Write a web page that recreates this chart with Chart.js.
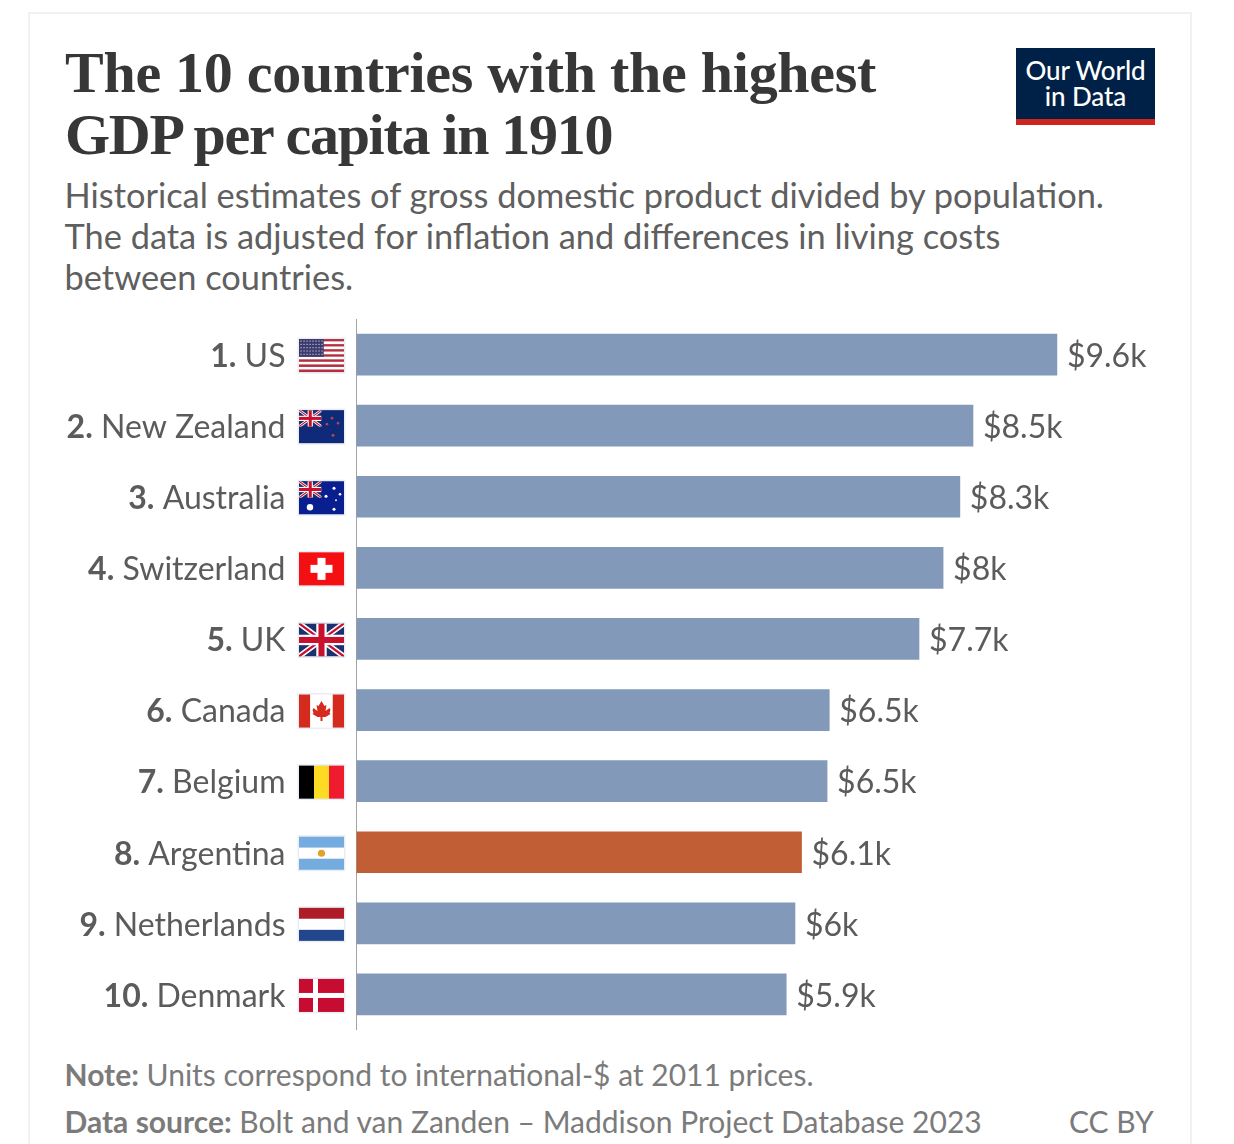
<!DOCTYPE html>
<html>
<head>
<meta charset="utf-8">
<script src="https://cdn.jsdelivr.net/npm/chart.js@4/dist/chart.umd.min.js"></script>
<style>
  html, body { margin: 0; padding: 0; background: #fff; }
  body { width: 1234px; height: 1144px; position: relative; overflow: hidden; font-family: Lato, sans-serif; }
  #card { position: absolute; left: 28px; top: 12px; width: 1160px; height: 1140px; border: 2px solid #f1f1f1; box-sizing: content-box; }
  #title { position: absolute; left: 65px; top: 42px; font: bold 58px/62px "Liberation Serif", serif; color: #373737; white-space: nowrap; }
  #subtitle { position: absolute; left: 64.5px; top: 174px; font-size: 34.4px; line-height: 41px; color: #5f5f5f; white-space: nowrap; }
  #logo { position: absolute; left: 1016px; top: 48px; width: 139px; height: 71px; background: #002147; border-bottom: 6px solid #ce261e; color: #fff; text-align: center; font-size: 26px; line-height: 26px; font-weight: 500; letter-spacing: -0.1px; }
  #logo div:first-child { margin-top: 9px; }
  .foot { position: absolute; font-size: 30px; line-height: 36px; color: #7b7b7b; white-space: nowrap; }
  #wrap { position: absolute; left: 0; top: 319px; width: 1232px; height: 711px; }
</style>
</head>
<body>
<div id="card"></div>
<div id="title"><span style="letter-spacing:-0.27px">The 10 countries with the highest</span><br><span style="letter-spacing:-1.3px">GDP per capita in 1910</span></div>
<div id="subtitle">Historical estimates of gross domestic product divided by population.<br>The data is adjusted for inflation and differences in living costs<br>between countries.</div>
<div id="logo"><div>Our World</div><div>in Data</div></div>
<div id="wrap"><canvas id="myChart"></canvas></div>
<div class="foot" style="left:64.5px;top:1056px"><b>Note:</b> Units correspond to international-$ at 2011 prices.</div>
<div class="foot" style="left:64.5px;top:1103px"><b>Data source:</b> Bolt and van Zanden – Maddison Project Database 2023</div>
<div class="foot" style="left:1069px;top:1103px">CC BY</div>
<script>
const countries = ["US","New Zealand","Australia","Switzerland","UK","Canada","Belgium","Argentina","Netherlands","Denmark"];
const gdp = [9600,8450,8270,8040,7710,6480,6450,6100,6010,5890];
const valueLabels = ["$9.6k","$8.5k","$8.3k","$8k","$7.7k","$6.5k","$6.5k","$6.1k","$6k","$5.9k"];
const highlight = "Argentina";

const FONT_SIZE = 32, TEXT = "#5b5b5b";
const FLAG_X = 299, FLAG_W = 45, FLAG_H = 33;
const LABEL_DROP = 2;

function stars(c, x, y, list, color) {
  c.fillStyle = color;
  list.forEach(s => { c.beginPath(); c.arc(x + s[0], y + s[1], s[2], 0, Math.PI * 2); c.fill(); });
}
function unionJack(c, x, y, w, h) {
  c.save();
  c.beginPath(); c.rect(x, y, w, h); c.clip();
  c.fillStyle = "#1c2f6e"; c.fillRect(x, y, w, h);
  let t = h / 6;
  c.strokeStyle = "#fff"; c.lineWidth = t;
  c.beginPath(); c.moveTo(x, y); c.lineTo(x + w, y + h); c.moveTo(x + w, y); c.lineTo(x, y + h); c.stroke();
  c.strokeStyle = "#c8102e"; c.lineWidth = t / 2.4;
  c.beginPath(); c.moveTo(x, y); c.lineTo(x + w, y + h); c.moveTo(x + w, y); c.lineTo(x, y + h); c.stroke();
  c.fillStyle = "#fff";
  c.fillRect(x + w / 2 - t * 0.95, y, t * 1.9, h);
  c.fillRect(x, y + h / 2 - t * 0.95, w, t * 1.9);
  c.fillStyle = "#c8102e";
  c.fillRect(x + w / 2 - t * 0.55, y, t * 1.1, h);
  c.fillRect(x, y + h / 2 - t * 0.55, w, t * 1.1);
  c.restore();
}
function bandsV(c, x, y, w, h, cols) {
  cols.forEach((col, i) => { c.fillStyle = col; c.fillRect(x + i * w / cols.length, y, w / cols.length, h); });
}
function bandsH(c, x, y, w, h, cols) {
  cols.forEach((col, i) => { c.fillStyle = col; c.fillRect(x, y + i * h / cols.length, w, h / cols.length); });
}

const flags = {
  "US": function (c, x, y, w, h) {
    let rows = [];
    for (let i = 0; i < 13; i++) rows.push(i % 2 ? "#fff" : "#b5303f");
    bandsH(c, x, y, w, h, rows);
    c.fillStyle = "#3c3b6e"; c.fillRect(x, y, w * 0.55, h * 7 / 13);
    c.fillStyle = "#d5d7e6";
    for (let r = 0; r < 5; r++) for (let k = 0; k < 8; k++) c.fillRect(x + 1.5 + k * 3, y + 1.5 + r * 3.3, 1.1, 1.1);
  },
  "New Zealand": function (c, x, y, w, h) {
    c.fillStyle = "#0f2a78"; c.fillRect(x, y, w, h);
    unionJack(c, x, y, w / 2, h / 2);
    stars(c, x, y, [[33, 8, 1.3], [28, 14, 1.3], [39, 13, 1.3], [34, 25, 1.5]], "#b5405a");
  },
  "Australia": function (c, x, y, w, h) {
    c.fillStyle = "#0a1f8f"; c.fillRect(x, y, w, h);
    unionJack(c, x, y, w / 2, h / 2);
    stars(c, x, y, [[11, 26, 3.2], [35, 7, 1.5], [27, 15, 1.5], [41, 13, 1.3], [37, 19, 0.9], [35, 28, 1.5]], "#fff");
  },
  "Switzerland": function (c, x, y, w, h) {
    c.fillStyle = "#f40f12"; c.fillRect(x, y, w, h);
    c.fillStyle = "#fff";
    c.fillRect(x + w / 2 - 11, y + h / 2 - 4, 22, 8);
    c.fillRect(x + w / 2 - 4, y + h / 2 - 11, 8, 22);
  },
  "UK": unionJack,
  "Canada": function (c, x, y, w, h) {
    bandsV(c, x, y, w, h, ["#d52b1e", "#fff", "#fff", "#d52b1e"]);
    let mx = x + w / 2, my = y + h / 2;
    let leaf = [[0,-10],[3,-5],[5,-6],[4,0],[8,-3],[9,-1],[8,2],[9,3],[4,6],[1,6],[1,10],[-1,10],[-1,6],[-4,6],[-9,3],[-8,2],[-9,-1],[-8,-3],[-4,0],[-5,-6],[-3,-5]];
    c.fillStyle = "#d52b1e"; c.beginPath();
    leaf.forEach((p, i) => i ? c.lineTo(mx + p[0], my + p[1]) : c.moveTo(mx + p[0], my + p[1]));
    c.closePath(); c.fill();
  },
  "Belgium": function (c, x, y, w, h) { bandsV(c, x, y, w, h, ["#000", "#fdda24", "#ef1c2e"]); },
  "Argentina": function (c, x, y, w, h) {
    bandsH(c, x, y, w, h, ["#74acdf", "#fff", "#74acdf"]);
    stars(c, x + w / 2, y + h / 2, [[0, 0, 3.6]], "#e0a12f");
  },
  "Netherlands": function (c, x, y, w, h) { bandsH(c, x, y, w, h, ["#ae1c28", "#fff", "#21468b"]); },
  "Denmark": function (c, x, y, w, h) {
    c.fillStyle = "#c60c30"; c.fillRect(x, y, w, h);
    c.fillStyle = "#fff";
    c.fillRect(x + 14, y, 5, h);
    c.fillRect(x, y + h / 2 - 2.5, w, 5);
  }
};

// rank numbers, flags and the value at the end of each bar
const rowExtras = {
  id: "rowExtras",
  afterDatasetsDraw(chart) {
    let c = chart.ctx, yScale = chart.scales.y;
    let bars = chart.getDatasetMeta(0).data;
    let right = yScale.right - yScale.options.ticks.padding;
    c.save();
    c.textBaseline = "middle";
    countries.forEach((name, i) => {
      let y = yScale.getPixelForValue(i);
      c.font = FONT_SIZE + "px Lato";
      let w = c.measureText(name).width;
      let gap = c.measureText(" ").width;
      c.font = "bold " + FONT_SIZE + "px Lato";
      c.fillStyle = TEXT;
      c.textAlign = "right";
      c.fillText((i + 1) + ".", right - w - gap, y + LABEL_DROP);

      c.font = FONT_SIZE + "px Lato";
      c.textAlign = "left";
      c.fillText(valueLabels[i], bars[i].x + 10, y + LABEL_DROP);

      let fy = y - FLAG_H / 2 + 1;
      c.fillStyle = "#e9edf5";
      c.fillRect(FLAG_X - 1.5, fy - 1.5, FLAG_W + 3, FLAG_H + 3);
      flags[name](c, FLAG_X, fy, FLAG_W, FLAG_H);
    });
    c.restore();
  }
};

new Chart(document.getElementById("myChart"), {
  type: "bar",
  data: {
    labels: countries,
    datasets: [{
      data: gdp,
      barThickness: 41,
      backgroundColor: countries.map(n => n == highlight ? "#c15e36" : "#8299ba")
    }]
  },
  options: {
    indexAxis: "y",
    responsive: true,
    maintainAspectRatio: false,
    animation: false,
    layout: { padding: 0 },
    plugins: { legend: { display: false }, tooltip: { enabled: false } },
    scales: {
      x: { display: false, min: 0, max: 12000 },
      y: {
        afterFit(scale) {
          // tick padding must not eat into the height of the rows
          scale.width = 356.5;
          scale.paddingTop = 0;
          scale.paddingBottom = 0;
        },
        grid: { display: false, drawTicks: false },
        border: { display: true, color: "#a3a3a3", width: 1 },
        ticks: { padding: 71, labelOffset: LABEL_DROP, color: TEXT, font: { family: "Lato", size: FONT_SIZE }, autoSkip: false }
      }
    }
  },
  plugins: [rowExtras]
});
</script>
</body>
</html>
